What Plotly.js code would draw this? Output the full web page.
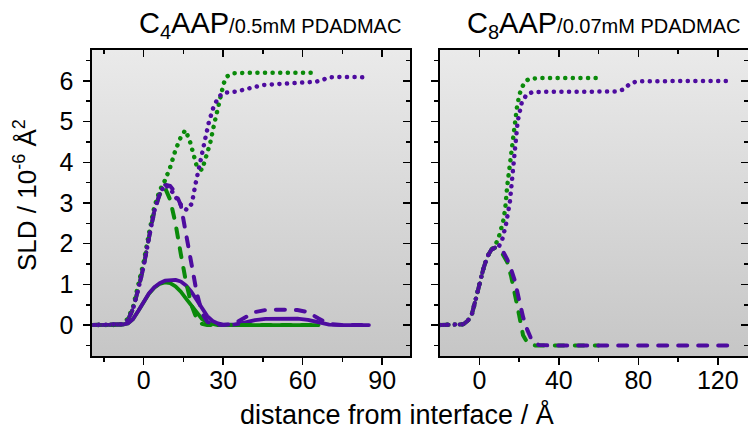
<!DOCTYPE html>
<html>
<head>
<meta charset="utf-8">
<script src="https://cdn.plot.ly/plotly-3.0.1.min.js"></script>
<style>
html,body{margin:0;padding:0;background:#fff;}
#chart{width:748px;height:431px;}
.js-line{stroke-linecap:round;stroke-linejoin:round;}
</style>
</head>
<body>
<div id="chart"></div>
<script>
// ---------- data: C4AAP / 0.5 mM PDADMAC (left panel) ----------
const c4SolidGreenX  = [-20,-10,-8,-6,-4,-2,0,2,4,6,8,10,12,14,16,18,20,22,24,26,28,30,40,50,60,66];
const c4SolidGreenY  = [0,0,0.01,0.04,0.15,0.35,0.57,0.77,0.92,1.01,1.05,1.03,0.95,0.82,0.65,0.48,0.3,0.15,0.06,0.02,0,0,0,0,0,0];
const c4SolidPurpleX = [-20,-10,-8,-6,-4,-2,0,2,4,6,8,10,12,14,16,18,20,22,24,26,28,30,34,38,42,46,50,54,58,62,66,70,75,80,85];
const c4SolidPurpleY = [0,0,0.01,0.04,0.15,0.35,0.58,0.78,0.93,1.03,1.09,1.11,1.11,1.07,0.97,0.82,0.62,0.4,0.22,0.1,0.04,0.01,0.01,0.06,0.12,0.15,0.16,0.16,0.16,0.13,0.06,0.01,0,0,0];
const c4DashGreenX   = [-20,-10,-8,-6,-4,-2,0,2,4,6,8,10,12,14,16,18,20,22,24,30,40,50,60,66];
const c4DashGreenY   = [0,0,0.02,0.12,0.4,0.9,1.45,2.15,2.8,3.2,3.38,3.08,2.5,1.75,1.05,0.5,0.15,0.03,0,0,0,0,0,0];
const c4DashPurpleX  = [-20,-10,-8,-6,-4,-2,0,2,4,6,8,10,12,14,16,18,20,22,24,26,28,30,34,38,42,46,50,54,58,62,66,70,75,80,85];
const c4DashPurpleY  = [0,0,0.02,0.12,0.4,0.9,1.45,2.15,2.8,3.22,3.45,3.42,3.25,2.95,2.25,1.5,0.8,0.3,0.08,0.02,0,0,0.03,0.18,0.32,0.37,0.38,0.38,0.37,0.32,0.16,0.03,0,0,0];
const c4DotGreenX    = [-20,-10,-8,-6,-4,-2,0,2,4,6,8,10,12,14,15.7,17.3,18.8,20.1,22,23.3,25.1,26.4,27.4,28.9,30.2,31.4,34,40,50,60,65];
const c4DotGreenY    = [0,0,0.03,0.15,0.45,0.95,1.55,2.25,2.9,3.3,3.55,3.88,4.3,4.62,4.79,4.55,4.14,3.89,3.81,4.06,4.47,4.88,5.16,5.61,5.94,6.11,6.19,6.2,6.2,6.2,6.2];
const c4DotPurpleX   = [-20,-10,-8,-6,-4,-2,0,2,4,6,8,10,12,14.5,16.3,18.2,19.5,20.4,22.1,23.3,24.5,26.4,28.3,30.2,35,40,45,50,58,65,68,70,75,80,85];
const c4DotPurpleY   = [0,0,0.02,0.12,0.4,0.9,1.45,2.15,2.8,3.22,3.45,3.35,3.15,2.91,2.83,2.99,3.45,3.73,4.3,4.63,4.96,5.37,5.61,5.71,5.74,5.82,5.9,5.92,5.94,5.98,6.04,6.09,6.1,6.1,6.09];

// ---------- data: C8AAP / 0.07 mM PDADMAC (right panel) ----------
const c8DashGreenX   = [-20,-10,-8,-6,-4,-2,0,2,4,6,8,10,12,14,16,18,20,22,24,26,28,35,45,60];
const c8DashGreenY   = [0,0,0.02,0.1,0.22,0.6,1.0,1.38,1.68,1.85,1.9,1.86,1.72,1.55,1.2,0.78,0.25,-0.25,-0.42,-0.48,-0.5,-0.5,-0.5,-0.5];
const c8DashPurpleX  = [-20,-10,-8,-6,-4,-2,0,2,4,6,8,10,12,14,16,18,20,22,24,26,28,30,35,50,70,90,110,125];
const c8DashPurpleY  = [0,0,0.02,0.1,0.22,0.6,1.0,1.38,1.68,1.85,1.91,1.89,1.8,1.62,1.37,1.07,0.62,0.2,-0.1,-0.33,-0.44,-0.49,-0.5,-0.5,-0.5,-0.5,-0.5,-0.5];
const c8DotGreenX    = [-20,-10,-8,-6,-4,-2,0,2,4,6,8,10,12,13,14,15,16,17,18,19,20,21,23,25,30,40,50,59];
const c8DotGreenY    = [0,0,0.02,0.1,0.22,0.6,1.0,1.38,1.68,1.85,1.95,2.2,2.55,2.85,3.4,3.83,4.25,4.6,5.0,5.38,5.62,5.8,5.98,6.05,6.07,6.07,6.07,6.07];
const c8DotPurpleX   = [-20,-10,-8,-6,-4,-2,0,2,4,6,8,10,11.3,13.4,15.4,16.8,18,19.3,21.3,23.8,27.2,40,60,69,72.5,75.8,79.2,90,110,125];
const c8DotPurpleY   = [0,0,0.02,0.1,0.22,0.6,1.0,1.38,1.68,1.85,1.91,1.95,2.06,2.47,3.04,3.7,4.35,5.01,5.46,5.67,5.73,5.73,5.73,5.74,5.79,5.93,5.99,6.0,6.0,6.0];

// ---------- tick / text labels ----------
const SUB = '<span style="font-size:20px;baseline-shift:-6px">';
const SUP = '<span style="font-size:18px;baseline-shift:11px">';
const SMALL = '<span style="font-size:20px">';
const titleLeft  = 'C' + SUB + '4</span>AAP' + SMALL + '/0.5mM PDADMAC</span>';
const titleRight = 'C' + SUB + '8</span>AAP' + SMALL + '/0.07mM PDADMAC</span>';
const xTitle = 'distance from interface / Å';
const yTitle = 'SLD / 10' + SUP + '-6</span> Å' + SUP + '2</span>';

// ---------- styles ----------
const GREEN = '#0a8a0a';
const PURPLE = '#4e0c9f';
const W = 748, H = 431;
const FONT = 'Liberation Sans, Arial, sans-serif';

function tr(x, y, color, kind, xa, ya) {
  let line;
  if (kind === 'solid') line = {color: color, width: 3.8};
  else if (kind === 'dash') line = {color: color, width: 4, dash: '9px,11px'};
  else line = {color: color, width: 4.5, dash: '0.1px,7.5px'};
  return {x: x, y: y, type: 'scatter', mode: 'lines', line: line, xaxis: xa, yaxis: ya,
          hoverinfo: 'skip', showlegend: false};
}

const traces = [
  tr(c4SolidGreenX, c4SolidGreenY, GREEN, 'solid', 'x', 'y'),
  tr(c4SolidPurpleX, c4SolidPurpleY, PURPLE, 'solid', 'x', 'y'),
  tr(c4DashGreenX, c4DashGreenY, GREEN, 'dash', 'x', 'y'),
  tr(c4DashPurpleX, c4DashPurpleY, PURPLE, 'dash', 'x', 'y'),
  tr(c4DotGreenX, c4DotGreenY, GREEN, 'dot', 'x', 'y'),
  tr(c4DotPurpleX, c4DotPurpleY, PURPLE, 'dot', 'x', 'y'),
  tr(c8DashGreenX, c8DashGreenY, GREEN, 'dash', 'x2', 'y2'),
  tr(c8DashPurpleX, c8DashPurpleY, PURPLE, 'dash', 'x2', 'y2'),
  tr(c8DotGreenX, c8DotGreenY, GREEN, 'dot', 'x2', 'y2'),
  tr(c8DotPurpleX, c8DotPurpleY, PURPLE, 'dot', 'x2', 'y2')
];

const yDom = [1 - 356 / H, 1 - 50 / H];
const xDom1 = [92 / W, 410 / W];
const xDom2 = [440 / W, 1];
const xr1 = [-19.5, 100.5];
const xr2 = [-19.8, 135.2];
const yr = [-0.76, 6.76];
const TICKFONT = {family: FONT, size: 25, color: '#000'};

function baseAxis(extra) {
  return Object.assign({
    showgrid: false, zeroline: false, showline: true, linecolor: '#000', linewidth: 1.6,
    mirror: true, ticks: 'outside', ticklen: 7, tickwidth: 1.6, tickcolor: '#000',
    tickfont: TICKFONT, fixedrange: true
  }, extra);
}
function mirrorAxis(extra) {
  return Object.assign({
    showgrid: false, zeroline: false, showline: false, ticks: 'inside', ticklen: 7,
    tickwidth: 1.6, tickcolor: '#000', showticklabels: false, fixedrange: true
  }, extra);
}

const gradSvg = 'data:image/svg+xml;utf8,' + encodeURIComponent(
  '<svg xmlns="http://www.w3.org/2000/svg" width="100" height="100" preserveAspectRatio="none">' +
  '<defs><linearGradient id="g" x1="0" y1="0" x2="0" y2="1">' +
  '<stop offset="0" stop-color="#eaeaea"/><stop offset="1" stop-color="#c6c6c6"/></linearGradient></defs>' +
  '<rect width="100" height="100" fill="url(#g)"/></svg>');

const layout = {
  width: W, height: H,
  margin: {l: 0, r: 0, t: 0, b: 0},
  paper_bgcolor: '#ffffff',
  plot_bgcolor: 'rgba(0,0,0,0)',
  showlegend: false,
  font: {family: FONT, color: '#000'},
  xaxis: baseAxis({domain: xDom1, range: xr1, anchor: 'y', tick0: 0, dtick: 30,
    minor: {dtick: 15, tick0: 0, ticks: 'outside', ticklen: 4, tickwidth: 1.6, tickcolor: '#000'},
    ticklabelstandoff: -6}),
  yaxis: baseAxis({domain: yDom, range: yr, anchor: 'x', tick0: 0, dtick: 1,
    minor: {dtick: 0.5, tick0: 0, ticks: 'outside', ticklen: 4, tickwidth: 1.6, tickcolor: '#000'},
    ticklabelstandoff: 5}),
  xaxis2: baseAxis({domain: xDom2, range: xr2, anchor: 'y2', tick0: 0, dtick: 40,
    minor: {dtick: 20, tick0: 0, ticks: 'outside', ticklen: 4, tickwidth: 1.6, tickcolor: '#000'},
    ticklabelstandoff: -6}),
  yaxis2: baseAxis({domain: yDom, range: yr, anchor: 'x2', tick0: 0, dtick: 1, showticklabels: false,
    mirror: false,
    minor: {dtick: 0.5, tick0: 0, ticks: 'outside', ticklen: 4, tickwidth: 1.6, tickcolor: '#000'}}),
  xaxis3: mirrorAxis({overlaying: 'x', anchor: 'y', side: 'top', range: xr1, tick0: 0, dtick: 30,
    minor: {dtick: 15, tick0: 0, ticks: 'inside', ticklen: 4, tickwidth: 1.6, tickcolor: '#000'}}),
  yaxis3: mirrorAxis({overlaying: 'y', anchor: 'x', side: 'right', range: yr, tick0: 0, dtick: 1,
    minor: {dtick: 0.5, tick0: 0, ticks: 'inside', ticklen: 4, tickwidth: 1.6, tickcolor: '#000'}}),
  xaxis4: mirrorAxis({overlaying: 'x2', anchor: 'y2', side: 'top', range: xr2, tick0: 0, dtick: 40,
    minor: {dtick: 20, tick0: 0, ticks: 'inside', ticklen: 4, tickwidth: 1.6, tickcolor: '#000'}}),
  yaxis4: mirrorAxis({overlaying: 'y2', anchor: 'x2', side: 'right', range: yr, tick0: 0, dtick: 1,
    minor: {dtick: 0.5, tick0: 0, ticks: 'inside', ticklen: 4, tickwidth: 1.6, tickcolor: '#000'}}),
  images: [
    {source: gradSvg, xref: 'x domain', yref: 'y domain', x: 0, y: 1, sizex: 1, sizey: 1,
     sizing: 'stretch', xanchor: 'left', yanchor: 'top', layer: 'below'},
    {source: gradSvg, xref: 'x2 domain', yref: 'y2 domain', x: 0, y: 1, sizex: 1, sizey: 1,
     sizing: 'stretch', xanchor: 'left', yanchor: 'top', layer: 'below'}
  ],
  annotations: [
    {text: titleLeft, xref: 'paper', yref: 'paper', x: 270 / W, y: 1 - 25 / H,
     xanchor: 'center', yanchor: 'middle', showarrow: false, font: {family: FONT, size: 29, color: '#000'}},
    {text: titleRight, xref: 'paper', yref: 'paper', x: 603 / W, y: 1 - 25 / H,
     xanchor: 'center', yanchor: 'middle', showarrow: false, font: {family: FONT, size: 29, color: '#000'}},
    {text: xTitle, xref: 'paper', yref: 'paper', x: 397 / W, y: 1 - 414 / H,
     xanchor: 'center', yanchor: 'middle', showarrow: false, font: {family: FONT, size: 27, color: '#000'}},
    {text: yTitle, xref: 'paper', yref: 'paper', x: 25 / W, y: 1 - 195 / H, textangle: -90,
     xanchor: 'center', yanchor: 'middle', showarrow: false, font: {family: FONT, size: 26, color: '#000'}}
  ]
};

traces.push({x: [], y: [], xaxis: 'x3', yaxis: 'y3', type: 'scatter', showlegend: false});
traces.push({x: [], y: [], xaxis: 'x4', yaxis: 'y4', type: 'scatter', showlegend: false});

Plotly.newPlot('chart', traces, layout, {staticPlot: true, displayModeBar: false});
</script>
</body>
</html>
